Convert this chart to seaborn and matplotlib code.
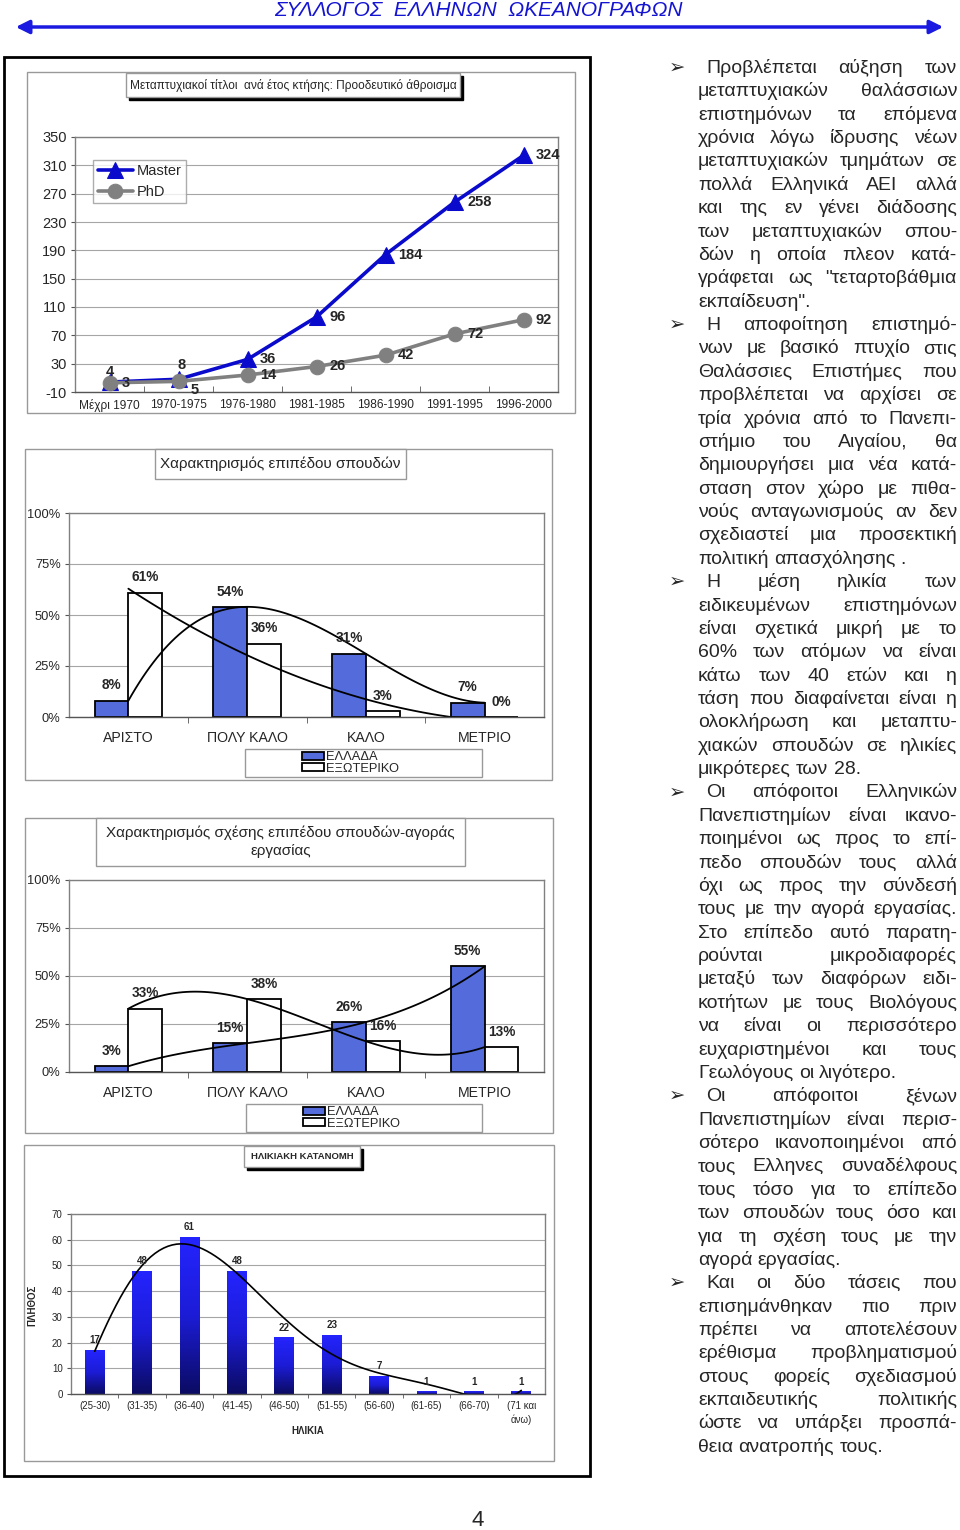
import numpy as np
import pandas as pd
import matplotlib
matplotlib.use("Agg")
import matplotlib.pyplot as plt
import seaborn as sns
from matplotlib.patches import Rectangle, FancyArrowPatch
from matplotlib.colors import LinearSegmentedColormap
from matplotlib.ticker import FuncFormatter

# ---- data -------------------------------------------------------------
periods = ["Μέχρι 1970", "1970-1975", "1976-1980", "1981-1985",
           "1986-1990", "1991-1995", "1996-2000"]
master = [4, 8, 36, 96, 184, 258, 324]
phd = [3, 5, 14, 26, 42, 72, 92]

levels = ["ΑΡΙΣΤΟ", "ΠΟΛΥ ΚΑΛΟ", "ΚΑΛΟ", "ΜΕΤΡΙΟ"]
study_gr = [8, 54, 31, 7]
study_abroad = [61, 36, 3, 0]
market_gr = [3, 15, 26, 55]
market_abroad = [33, 38, 16, 13]

age_groups = ["(25-30)", "(31-35)", "(36-40)", "(41-45)", "(46-50)",
              "(51-55)", "(56-60)", "(61-65)", "(66-70)", "(71 και\nάνω)"]
age_counts = [17, 48, 61, 48, 22, 23, 7, 1, 1, 1]

paragraphs = [
    ["Προβλέπεται αύξηση των", "μεταπτυχιακών θαλάσσιων",
     "επιστημόνων τα επόμενα", "χρόνια λόγω ίδρυσης νέων",
     "μεταπτυχιακών τμημάτων σε", "πολλά Ελληνικά ΑΕΙ αλλά",
     "και της εν γένει διάδοσης", "των μεταπτυχιακών σπου-",
     "δών η οποία πλεον κατά-", "γράφεται ως \"τεταρτοβάθμια",
     "εκπαίδευση\"."],
    ["Η αποφοίτηση επιστημό-", "νων με βασικό πτυχίο στις",
     "Θαλάσσιες Επιστήμες που", "προβλέπεται να αρχίσει σε",
     "τρία χρόνια από το Πανεπι-", "στήμιο του Αιγαίου, θα",
     "δημιουργήσει μια νέα κατά-", "σταση στον χώρο με πιθα-",
     "νούς ανταγωνισμούς αν δεν", "σχεδιαστεί μια προσεκτική",
     "πολιτική απασχόλησης ."],
    ["Η μέση ηλικία των", "ειδικευμένων επιστημόνων",
     "είναι σχετικά μικρή με το", "60% των ατόμων να είναι",
     "κάτω των 40 ετών και η", "τάση που διαφαίνεται είναι η",
     "ολοκλήρωση και μεταπτυ-", "χιακών σπουδών σε ηλικίες",
     "μικρότερες των 28."],
    ["Οι απόφοιτοι Ελληνικών", "Πανεπιστημίων είναι ικανο-",
     "ποιημένοι ως προς το επί-", "πεδο σπουδών τους αλλά",
     "όχι ως προς την σύνδεσή", "τους με την αγορά εργασίας.",
     "Στο επίπεδο αυτό παρατη-", "ρούνται μικροδιαφορές",
     "μεταξύ των διαφόρων ειδι-", "κοτήτων με τους Βιολόγους",
     "να είναι οι περισσότερο", "ευχαριστημένοι και τους",
     "Γεωλόγους οι λιγότερο."],
    ["Οι απόφοιτοι ξένων", "Πανεπιστημίων είναι περισ-",
     "σότερο ικανοποιημένοι από", "τους Ελληνες συναδέλφους",
     "τους τόσο για το επίπεδο", "των σπουδών τους όσο και",
     "για τη σχέση τους με την", "αγορά εργασίας."],
    ["Και οι δύο τάσεις που", "επισημάνθηκαν πιο πριν",
     "πρέπει να αποτελέσουν", "ερέθισμα προβληματισμού",
     "στους φορείς σχεδιασμού", "εκπαιδευτικής πολιτικής",
     "ώστε να υπάρξει προσπά-", "θεια ανατροπής τους."],
]

# ---- style ------------------------------------------------------------
sns.set_style("white")
plt.rcParams["font.family"] = ["Liberation Sans", "DejaVu Sans"]
plt.rcParams["axes.unicode_minus"] = False

W, H = 960, 1530
fig = plt.figure(figsize=(W / 100, H / 100), dpi=100)
GRID = "#a6a6a6"
FRAME = "#999999"
BLUE = "#3d5ef2"


def fx(x):
    return x / W


def fy(y):
    return 1 - y / H


def add_box(x0, y0, x1, y1, edge=FRAME, lw=1, fill=None, z=1):
    r = Rectangle((fx(x0), fy(y1)), (x1 - x0) / W, (y1 - y0) / H,
                  transform=fig.transFigure, edgecolor=edge, lw=lw,
                  facecolor=fill if fill else "none", zorder=z)
    fig.add_artist(r)


def title_box(x0, y0, x1, y1, text, size, shadow=False, bold=False):
    if shadow:
        add_box(x0 + 3, y0 + 3, x1 + 3, y1 + 3, edge="black", fill="black", z=2)
    add_box(x0, y0, x1, y1, edge=FRAME, fill="white", z=3)
    fig.text(fx((x0 + x1) / 2), fy((y0 + y1) / 2), text, ha="center",
             va="center", fontsize=size, zorder=4, linespacing=1.4,
             fontweight="bold" if bold else "normal")


def axes_px(x0, y0, x1, y1):
    return fig.add_axes([fx(x0), fy(y1), (x1 - x0) / W, (y1 - y0) / H])


def style_axes(ax, ytick_size, xtick_size):
    for s in ax.spines.values():
        s.set_visible(True)
        s.set_color("#808080")
        s.set_linewidth(1)
    ax.spines["bottom"].set_color("#555555")
    ax.yaxis.grid(True, color=GRID, lw=0.8)
    ax.set_axisbelow(True)
    ax.tick_params(axis="y", which="major", left=True, length=3,
                   color="#555555", labelsize=ytick_size, pad=3)
    ax.tick_params(axis="x", which="major", length=0, labelsize=xtick_size)
    ax.set_xlabel("")
    ax.set_ylabel("")


# ---- header -----------------------------------------------------------
fig.text(fx(478), fy(10), "ΣΥΛΛΟΓΟΣ  ΕΛΛΗΝΩΝ  ΩΚΕΑΝΟΓΡΑΦΩΝ", ha="center",
         va="center", fontsize=15, style="italic", color="#1414d2")
fig.add_artist(FancyArrowPatch((fx(13), fy(27)), (fx(946), fy(27)),
                               transform=fig.transFigure, arrowstyle="<|-|>",
                               mutation_scale=20, lw=2.5, color="#1a1ae0"))

# page frame
add_box(4, 57, 590, 1476, edge="black", lw=2)

# ---- chart 1: cumulative postgraduate titles ---------------------------
add_box(27, 72, 575, 413)
title_box(126, 73, 460, 97,
          "Μεταπτυχιακοί τίτλοι  ανά έτος κτήσης: Προοδευτικό άθροισμα",
          8.6, shadow=True)
ax1 = axes_px(75, 137, 558, 392)
xpos = np.arange(len(periods))
sns.lineplot(x=xpos, y=master, ax=ax1, color="#0a0acc", lw=2.6, marker="^",
             markersize=11, markeredgecolor="#0a0acc", label="Master")
sns.lineplot(x=xpos, y=phd, ax=ax1, color="#808080", lw=2.6, marker="o",
             markersize=10.5, markeredgecolor="#808080", label="PhD")
ax1.set_xlim(-0.5, len(periods) - 0.5)
ax1.set_ylim(-10, 350)
ax1.set_yticks(np.arange(-10, 351, 40))
ax1.set_xticks(xpos)
ax1.set_xticklabels(periods)
style_axes(ax1, 10.5, 8.6)
ax1.tick_params(axis="x", pad=5)
ax1.set_xticks(np.arange(0.5, len(periods) - 1, 1), minor=True)
ax1.tick_params(axis="x", which="minor", direction="in", length=4,
                color="#555555", bottom=True)

m_off = {0: (0, 7, "center"), 1: (2, 10, "center")}
p_off = {1: (9, -6, "left")}
for i, v in enumerate(master):
    dx, dy, ha = m_off.get(i, (9, 0, "left"))
    ax1.annotate(str(v), (i, v), xytext=(dx, dy), textcoords="offset points",
                 ha=ha, va="center", fontsize=10.5, fontweight="bold")
for i, v in enumerate(phd):
    dx, dy, ha = p_off.get(i, (9, 0, "left"))
    ax1.annotate(str(v), (i, v), xytext=(dx, dy), textcoords="offset points",
                 ha=ha, va="center", fontsize=10.5, fontweight="bold")

leg = ax1.legend(loc="upper left", bbox_to_anchor=(0.038, 0.91), fontsize=10.5,
                 frameon=True, fancybox=False, edgecolor=FRAME,
                 handlelength=2.4, handletextpad=0.3, labelspacing=0.45,
                 borderpad=0.3, borderaxespad=0)
leg.get_frame().set_linewidth(1)


# ---- charts 2 & 3: grouped bars with trend curves ----------------------
def level_chart(frame, tbox, tsize, plot_box, leg_box, gr, abroad,
                gr_order, ab_order):
    add_box(*frame)
    title_box(*tbox, tsize)
    ax = axes_px(*plot_box)
    df = pd.DataFrame({
        "level": levels * 2,
        "pct": gr + abroad,
        "where": ["ΕΛΛΑΔΑ"] * 4 + ["ΕΞΩΤΕΡΙΚΟ"] * 4,
    })
    sns.barplot(data=df, x="level", y="pct", hue="where", ax=ax,
                palette={"ΕΛΛΑΔΑ": BLUE, "ΕΞΩΤΕΡΙΚΟ": "white"},
                edgecolor="black", linewidth=1.3, width=0.57, gap=0,
                legend=True)
    for cont in ax.containers:
        ax.bar_label(cont, fmt="%g%%", padding=6, fontsize=9.8,
                     fontweight="bold")
    xs = np.arange(len(levels))
    sns.regplot(x=xs, y=gr, order=gr_order, ci=None, scatter=False, ax=ax,
                color="black", line_kws={"lw": 1.3})
    sns.regplot(x=xs, y=abroad, order=ab_order, ci=None, scatter=False, ax=ax,
                color="black", line_kws={"lw": 1.3})
    ax.set_xlim(-0.5, 3.5)
    ax.set_ylim(0, 100)
    ax.set_yticks([0, 25, 50, 75, 100])
    ax.yaxis.set_major_formatter(FuncFormatter(lambda v, _: f"{v:.0f}%"))
    style_axes(ax, 9.3, 10.2)
    ax.tick_params(axis="x", pad=10)
    ax.set_xticks(np.arange(0.5, 3, 1), minor=True)
    ax.tick_params(axis="x", which="minor", direction="out", length=4,
                   color="#555555", bottom=True)
    handles, labels = ax.get_legend_handles_labels()
    ax.get_legend().remove()
    add_box(*leg_box)
    fig.legend(handles, labels, loc="upper left",
               bbox_to_anchor=(fx(leg_box[0] + 56), fy(leg_box[1] + 1)),
               frameon=False, fontsize=9.3, handlelength=1.7,
               handleheight=0.6, handletextpad=0.15, labelspacing=-0.05,
               borderpad=0.1, borderaxespad=0)
    return ax


level_chart((25, 449, 552, 780), (155, 449, 406, 479,
            "Χαρακτηρισμός επιπέδου σπουδών"), 11,
            (69, 513, 544, 717), (245, 749, 482, 777),
            study_gr, study_abroad, 3, 2)
level_chart((25, 818, 553, 1133), (96, 818, 465, 866,
            "Χαρακτηρισμός σχέσης επιπέδου σπουδών-αγοράς\nεργασίας"), 11,
            (69, 880, 544, 1072), (246, 1104, 482, 1132),
            market_gr, market_abroad, 3, 3)

# ---- chart 4: age distribution ---------------------------------------
add_box(24, 1145, 554, 1461)
title_box(244, 1146, 360, 1167, "ΗΛΙΚΙΑΚΗ ΚΑΤΑΝΟΜΗ", 6.8, shadow=True,
          bold=True)
ax4 = axes_px(71, 1214, 545, 1394)
sns.barplot(x=age_groups, y=age_counts, ax=ax4, color="#1616c0", width=0.42,
            linewidth=0)
ax4.bar_label(ax4.containers[0], padding=3.5, fontsize=7, fontweight="bold")
grad = np.linspace(0, 1, 256).reshape(-1, 1)
bar_cmap = LinearSegmentedColormap.from_list("bars", ["#0b0b62", "#1c1cd6",
                                                      "#2424ff"])
for p in ax4.patches:
    x0, y0, w, h = p.get_x(), p.get_y(), p.get_width(), p.get_height()
    im = ax4.imshow(grad, extent=[x0, x0 + w, y0, y0 + h], origin="lower",
                    cmap=bar_cmap, aspect="auto", zorder=p.get_zorder() + 0.1)
    im.set_clip_path(p)
sns.regplot(x=np.arange(len(age_groups)), y=age_counts, order=6, ci=None,
            scatter=False, ax=ax4, color="black", line_kws={"lw": 1.2})
ax4.set_xlim(-0.5, len(age_groups) - 0.5)
ax4.set_ylim(0, 70)
ax4.set_yticks(np.arange(0, 71, 10))
style_axes(ax4, 7, 7)
ax4.tick_params(axis="x", pad=5)
for lab in ax4.get_xticklabels():
    lab.set_va("top")
    lab.set_linespacing(1.4)
ax4.set_xticks(np.arange(0.5, len(age_groups) - 1, 1), minor=True)
ax4.tick_params(axis="x", which="minor", direction="out", length=3,
                color="#555555", bottom=True)
ax4.set_xlabel("ΗΛΙΚΙΑ", fontsize=7, fontweight="bold", labelpad=1)
fig.text(fx(32), fy(1305), "ΠΛΗΘΟΣ", rotation=90, ha="center", va="center",
         fontsize=7, fontweight="bold")

# ---- right column: justified text --------------------------------------
FS = 14
renderer = fig.canvas.get_renderer()


def text_w(s):
    t = fig.text(0, 0, s, fontsize=FS)
    w = t.get_window_extent(renderer).width
    t.remove()
    return w


space_w = text_w("a a") - text_w("aa")
x_left, x_right = 698, 957
row = 0
for para in paragraphs:
    for j, line in enumerate(para):
        y_base = 67 + row * 23.37 + 6
        x0 = x_left + (8 if j == 0 else 0)
        if j == 0:
            fig.text(fx(669), fy(y_base), "➢", fontsize=14,
                     family=["DejaVu Sans"], va="baseline")
        words = line.split()
        widths = [text_w(wd) for wd in words]
        if j == len(para) - 1 or len(words) == 1:
            gap = space_w
        else:
            gap = (x_right - x0 - sum(widths)) / (len(words) - 1)
        x = x0
        for wd, wdw in zip(words, widths):
            fig.text(fx(x), fy(y_base), wd, fontsize=FS, va="baseline")
            x += wdw + gap
        row += 1

# page number
fig.text(fx(478), fy(1521), "4", ha="center", va="center", fontsize=16)

fig.savefig("out.png", dpi=100)
